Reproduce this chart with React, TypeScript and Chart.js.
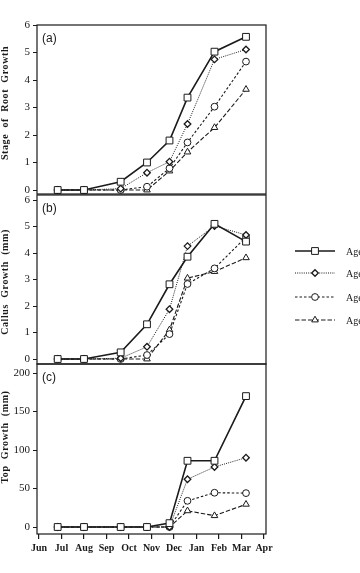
import React, { useEffect, useRef } from "react";
import { Chart, registerables } from "chart.js";

Chart.register(...registerables);

// Month axis, counted in months from 1 June
const monthTicks = ["Jun", "Jul", "Aug", "Sep", "Oct", "Nov", "Dec", "Jan", "Feb", "Mar", "Apr"];
// Sampling dates (months after 1 June)
const sampleMonths = [0.83, 2.0, 3.63, 4.8, 5.8, 6.6, 7.8, 9.2];
const ageLabels = ["Age 1", "Age 2", "Age 3", "Age 4"];

// (a) Stage of root growth
const rootAge1 = [0, 0, 0.3, 1.0, 1.8, 3.36, 5.03, 5.57];
const rootAge2 = [0, 0, 0.05, 0.63, 1.03, 2.4, 4.75, 5.11];
const rootAge3 = [0, 0, 0, 0.12, 0.79, 1.73, 3.03, 4.67];
const rootAge4 = [0, 0, 0, 0, 0.69, 1.38, 2.27, 3.66];

// (b) Callus growth (mm)
const callusAge1 = [0, 0, 0.25, 1.31, 2.82, 3.86, 5.1, 4.43];
const callusAge2 = [0, 0, 0.03, 0.46, 1.88, 4.26, 5.02, 4.68];
const callusAge3 = [0, 0, 0, 0.15, 0.94, 2.83, 3.42, 4.6];
const callusAge4 = [0, 0, 0, 0, 1.1, 3.05, 3.3, 3.82];

// (c) Top growth (mm)
const topAge1 = [0, 0, 0, 0, 5, 86, 86, 170];
const topAge2 = [0, 0, 0, 0, 0, 62, 78, 90];
const topAge3 = [0, 0, 0, 0, 0, 34, 44.5, 44];
const topAge4 = [0, 0, 0, 0, 0, 21, 14.7, 29.5];

const rootTicks = [0, 1, 2, 3, 4, 5, 6];
const callusTicks = [0, 1, 2, 3, 4, 5, 6];
const topTicks = [0, 50, 100, 150, 200];

const INK = "#1a1a1a";
const SERIF = '"Liberation Serif", "DejaVu Serif", serif';
const SANS = '"Liberation Sans", Arial, sans-serif';
const W = 360;
const H = 573;

type Style = { point: string; radius: number; dash: number[]; width: number; pointBorder: number };
const styles: Style[] = [
  { point: "rect", radius: 4.8, dash: [], width: 1.6, pointBorder: 1 },
  { point: "rectRot", radius: 3.3, dash: [1, 1.2], width: 1, pointBorder: 1.3 },
  { point: "circle", radius: 3.4, dash: [2.5, 2], width: 1.1, pointBorder: 1 },
  { point: "triangle", radius: 3.8, dash: [4.5, 2], width: 1.1, pointBorder: 1 },
];

function drawMarker(ctx: CanvasRenderingContext2D, st: Style, x: number, y: number) {
  const r = st.radius;
  ctx.beginPath();
  if (st.point === "rect") {
    const s = Math.SQRT1_2 * r;
    ctx.rect(x - s, y - s, 2 * s, 2 * s);
  } else if (st.point === "rectRot") {
    ctx.moveTo(x - r, y);
    ctx.lineTo(x, y - r);
    ctx.lineTo(x + r, y);
    ctx.lineTo(x, y + r);
    ctx.closePath();
  } else if (st.point === "circle") {
    ctx.arc(x, y, r, 0, Math.PI * 2);
  } else {
    ctx.moveTo(x, y - r);
    ctx.lineTo(x + Math.cos(Math.PI / 6) * r, y + r * 0.5);
    ctx.lineTo(x - Math.cos(Math.PI / 6) * r, y + r * 0.5);
    ctx.closePath();
  }
  ctx.fillStyle = "#fff";
  ctx.fill();
  ctx.setLineDash([]);
  ctx.lineWidth = st.pointBorder;
  ctx.strokeStyle = INK;
  ctx.stroke();
}

// Frame, panel letter, rotated axis title and (optionally) the series key
const panelDecor = {
  id: "panelDecor",
  afterDraw(chart: any, _args: any, opts: any) {
    const { ctx, chartArea: a } = chart;
    ctx.save();
    ctx.strokeStyle = INK;
    ctx.lineWidth = 1.2;
    ctx.setLineDash([]);
    ctx.strokeRect(a.left, a.top, a.right - a.left, a.bottom - a.top);

    ctx.fillStyle = INK;
    ctx.font = `12px ${SANS}`;
    ctx.textAlign = "left";
    ctx.textBaseline = "middle";
    ctx.fillText(opts.letter, a.left + 5, a.top + 14);

    ctx.save();
    ctx.translate(opts.titleX, opts.titleY);
    ctx.rotate(-Math.PI / 2);
    ctx.font = `bold 10px ${SERIF}`;
    (ctx as any).letterSpacing = "0.6px";
    ctx.textAlign = "center";
    ctx.textBaseline = "middle";
    ctx.fillText(opts.title, 0, 0);
    ctx.restore();

    if (opts.legend) {
      const rows = [251, 273, 297, 320];
      rows.forEach((y, i) => {
        const st = styles[i];
        ctx.save();
        ctx.beginPath();
        ctx.setLineDash(st.dash);
        ctx.lineWidth = st.width;
        ctx.strokeStyle = INK;
        ctx.moveTo(295, y);
        ctx.lineTo(335, y);
        ctx.stroke();
        drawMarker(ctx, st, 315, y);
        ctx.restore();
        ctx.fillStyle = INK;
        ctx.font = `10px ${SERIF}`;
        ctx.textAlign = "left";
        ctx.textBaseline = "middle";
        ctx.fillText(ageLabels[i], 346, y + 1);
      });
    }
    ctx.restore();
  },
};

type Panel = {
  series: number[][];
  yMin: number;
  yMax: number;
  yTicks: number[];
  top: number;
  bottom: number;
  showX: boolean;
  letter: string;
  title: string;
  titleY: number;
  legend: boolean;
};

function buildConfig(p: Panel): any {
  return {
    type: "line",
    data: {
      datasets: p.series.map((vals, i) => ({
        label: ageLabels[i],
        data: vals.map((v, k) => ({ x: sampleMonths[k], y: v })),
        borderColor: INK,
        borderWidth: styles[i].width,
        borderDash: styles[i].dash,
        tension: 0,
        fill: false,
        pointStyle: styles[i].point,
        pointRadius: styles[i].radius,
        pointBorderWidth: styles[i].pointBorder,
        pointBorderColor: INK,
        pointBackgroundColor: "#fff",
        clip: false,
      })),
    },
    options: {
      responsive: false,
      animation: false,
      events: [],
      layout: {
        padding: { left: 0, right: W - 266, top: p.top, bottom: p.showX ? 0 : H - p.bottom },
      },
      plugins: {
        legend: { display: false },
        tooltip: { enabled: false },
        panelDecor: { letter: p.letter, title: p.title, titleX: 5, titleY: p.titleY, legend: p.legend },
      },
      scales: {
        x: {
          type: "linear",
          min: -2 / 22.5,
          max: 10 + 2 / 22.5,
          display: p.showX,
          afterBuildTicks: (s: any) => {
            s.ticks = monthTicks.map((_, i) => ({ value: i }));
          },
          afterFit: (s: any) => {
            if (p.showX) s.height = H - p.bottom;
          },
          border: { display: false },
          grid: {
            drawOnChartArea: false,
            drawTicks: true,
            tickLength: 5,
            color: INK,
            lineWidth: 1.2,
          },
          ticks: {
            callback: (v: number) => monthTicks[v],
            color: INK,
            font: { family: SERIF, size: 10, weight: "bold" },
            padding: 3,
            maxRotation: 0,
            autoSkip: false,
          },
        },
        y: {
          type: "linear",
          min: p.yMin,
          max: p.yMax,
          afterBuildTicks: (s: any) => {
            s.ticks = p.yTicks.map((v) => ({ value: v }));
          },
          afterFit: (s: any) => {
            s.width = 37;
          },
          border: { display: false },
          grid: {
            drawOnChartArea: false,
            drawTicks: true,
            tickLength: 4,
            color: INK,
            lineWidth: 1,
          },
          ticks: {
            color: INK,
            font: { family: SERIF, size: 11 },
            padding: 3,
          },
        },
      },
    },
    plugins: [panelDecor],
  };
}

const panels: Panel[] = [
  {
    series: [rootAge1, rootAge2, rootAge3, rootAge4],
    yMin: -4 / 27.5,
    yMax: 6,
    yTicks: rootTicks,
    top: 25,
    bottom: 194,
    showX: false,
    letter: "(a)",
    title: "Stage  of  Root  Growth",
    titleY: 103,
    legend: false,
  },
  {
    series: [callusAge1, callusAge2, callusAge3, callusAge4],
    yMin: -5 / 26.5,
    yMax: 6 + 5 / 26.5,
    yTicks: callusTicks,
    top: 195,
    bottom: 364,
    showX: false,
    letter: "(b)",
    title: "Callus  Growth  (mm)",
    titleY: 282,
    legend: true,
  },
  {
    series: [topAge1, topAge2, topAge3, topAge4],
    yMin: -7 / 0.77,
    yMax: 200 + 9 / 0.77,
    yTicks: topTicks,
    top: 364,
    bottom: 534,
    showX: true,
    letter: "(c)",
    title: "Top  Growth  (mm)",
    titleY: 437,
    legend: false,
  },
];

function PanelCanvas({ panel }: { panel: Panel }) {
  const ref = useRef<HTMLCanvasElement | null>(null);
  useEffect(() => {
    if (!ref.current) return;
    const chart = new Chart(ref.current, buildConfig(panel));
    return () => chart.destroy();
  }, [panel]);
  return (
    <canvas
      ref={ref}
      width={W}
      height={H}
      style={{ position: "absolute", left: 0, top: 0, width: W, height: H }}
    />
  );
}

export default function App() {
  return (
    <div style={{ position: "absolute", left: 0, top: 0, width: W, height: H, background: "#fff", overflow: "hidden" }}>
      {panels.map((p) => (
        <PanelCanvas key={p.letter} panel={p} />
      ))}
    </div>
  );
}
